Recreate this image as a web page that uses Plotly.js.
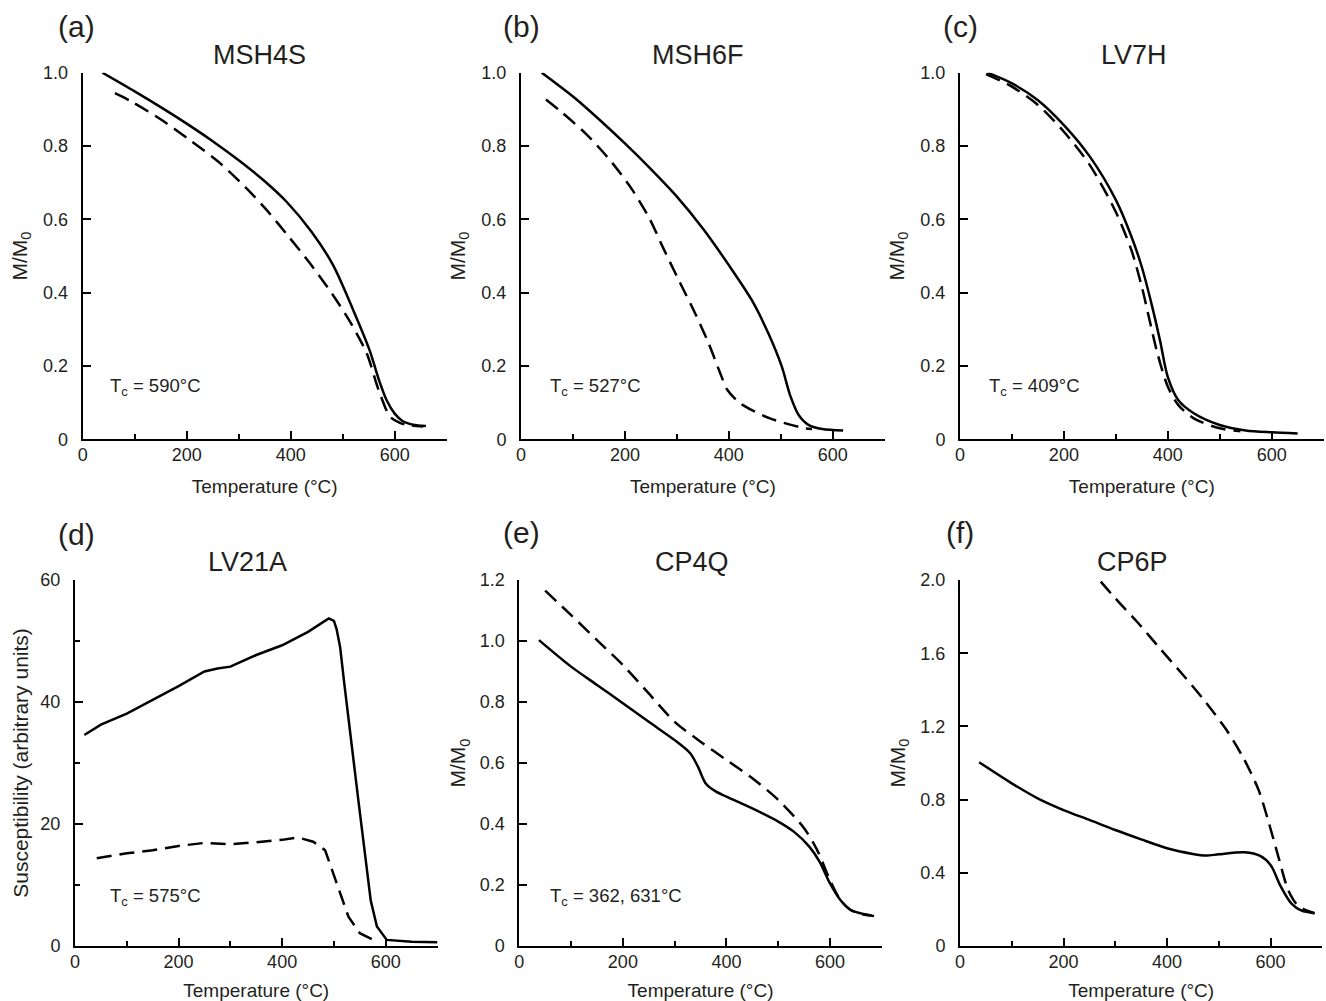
<!DOCTYPE html>
<html>
<head>
<meta charset="utf-8">
<script src="https://cdn.plot.ly/plotly-3.0.1.min.js"></script>
<style>html,body{margin:0;padding:0;background:#fff}#chart{width:1326px;height:1001px}</style>
</head>
<body>
<div id="chart"></div>
<script>
// ---------- data ----------
const panelLabels = ['(a)', '(b)', '(c)', '(d)', '(e)', '(f)'];
const sampleNames = ['MSH4S', 'MSH6F', 'LV7H', 'LV21A', 'CP4Q', 'CP6P'];
const curieTexts = ['T<sub>c</sub> = 590°C', 'T<sub>c</sub> = 527°C', 'T<sub>c</sub> = 409°C',
                    'T<sub>c</sub> = 575°C', 'T<sub>c</sub> = 362, 631°C', ''];

const xTickVals = [0, 200, 400, 600];
const xTickText = ['0', '200', '400', '600'];
const yTickValsM = [0, 0.2, 0.4, 0.6, 0.8, 1.0];
const yTickTextM = ['0', '0.2', '0.4', '0.6', '0.8', '1.0'];
const yTickValsD = [0, 20, 40, 60];
const yTickTextD = ['0', '20', '40', '60'];
const yTickValsE = [0, 0.2, 0.4, 0.6, 0.8, 1.0, 1.2];
const yTickTextE = ['0', '0.2', '0.4', '0.6', '0.8', '1.0', '1.2'];
const yTickValsF = [0, 0.4, 0.8, 1.2, 1.6, 2.0];
const yTickTextF = ['0', '0.4', '0.8', '1.2', '1.6', '2.0'];

// (a) MSH4S
const aSolidT = [38, 100, 150, 200, 250, 300, 350, 392, 440, 482, 524, 552, 569, 585, 600, 615, 635, 660];
const aSolidM = [1.0, 0.949, 0.906, 0.861, 0.813, 0.761, 0.704, 0.648, 0.566, 0.474, 0.34, 0.242, 0.165, 0.105, 0.07, 0.05, 0.04, 0.036];
const aDashT = [62, 94, 152, 206, 261, 312, 354, 396, 437, 479, 514, 546, 569, 591, 610, 630, 655];
const aDashM = [0.944, 0.921, 0.871, 0.816, 0.757, 0.689, 0.625, 0.553, 0.48, 0.398, 0.321, 0.235, 0.135, 0.062, 0.045, 0.038, 0.035];
// (b) MSH6F
const bSolidT = [40, 100, 150, 200, 250, 300, 350, 400, 444, 476, 502, 518, 535, 555, 580, 620];
const bSolidM = [1.0, 0.935, 0.873, 0.807, 0.737, 0.662, 0.575, 0.475, 0.38, 0.289, 0.198, 0.12, 0.065, 0.038, 0.028, 0.024];
const bDashT = [48, 75, 126, 175, 213, 247, 275, 305, 335, 361, 386, 397, 422, 479, 547, 560];
const bDashM = [0.927, 0.896, 0.832, 0.755, 0.683, 0.603, 0.518, 0.43, 0.344, 0.262, 0.171, 0.135, 0.098, 0.057, 0.03, 0.028];
// (c) LV7H
const cSolidT = [53, 100, 150, 200, 250, 300, 330, 350, 370, 385, 400, 420, 450, 500, 550, 600, 650];
const cSolidM = [1.0, 0.971, 0.925, 0.857, 0.771, 0.653, 0.553, 0.47, 0.362, 0.27, 0.17, 0.107, 0.071, 0.039, 0.024, 0.019, 0.016];
const cDashT = [50, 100, 150, 200, 250, 300, 330, 350, 365, 380, 400, 420, 450, 500, 540];
const cDashM = [0.996, 0.962, 0.912, 0.839, 0.748, 0.62, 0.516, 0.416, 0.325, 0.235, 0.144, 0.094, 0.057, 0.03, 0.022];
// (d) LV21A susceptibility
const dSolidT = [18, 50, 100, 150, 200, 250, 275, 300, 350, 400, 450, 490, 500, 505, 512, 520, 531, 547, 563, 571, 583, 602, 650, 700];
const dSolidK = [34.6, 36.3, 38.1, 40.3, 42.6, 45.0, 45.5, 45.8, 47.7, 49.3, 51.5, 53.7, 53.3, 52.0, 49.0, 43.0, 34.9, 24.0, 13.0, 7.5, 3.2, 1.0, 0.7, 0.6];
const dDashT = [42, 100, 150, 200, 250, 300, 350, 400, 430, 460, 483, 505, 528, 550, 583];
const dDashK = [14.4, 15.2, 15.7, 16.4, 16.9, 16.7, 17.0, 17.4, 17.8, 17.1, 15.7, 10.3, 4.8, 2.1, 0.7];
// (e) CP4Q
const eSolidT = [38, 100, 150, 200, 250, 300, 330, 345, 360, 380, 400, 450, 500, 530, 560, 580, 600, 620, 640, 660, 685];
const eSolidM = [1.003, 0.916, 0.856, 0.796, 0.735, 0.675, 0.632, 0.588, 0.533, 0.506, 0.49, 0.451, 0.408, 0.375, 0.326, 0.276, 0.205, 0.151, 0.118, 0.107, 0.098];
const eDashT = [50, 100, 150, 200, 250, 300, 350, 400, 450, 500, 550, 575, 600, 620, 640, 660, 680];
const eDashM = [1.165, 1.085, 1.003, 0.921, 0.828, 0.735, 0.67, 0.61, 0.55, 0.479, 0.386, 0.315, 0.216, 0.151, 0.118, 0.105, 0.1];
// (f) CP6P
const fSolidT = [37, 100, 150, 200, 250, 300, 350, 400, 450, 475, 500, 550, 580, 600, 620, 640, 660, 685];
const fSolidM = [1.004, 0.889, 0.807, 0.743, 0.689, 0.634, 0.583, 0.534, 0.503, 0.494, 0.501, 0.512, 0.492, 0.443, 0.324, 0.233, 0.193, 0.179];
const fDashT = [272, 300, 342, 386, 431, 474, 515, 548, 577, 597, 616, 634, 650, 665, 685];
const fDashM = [1.991, 1.90, 1.772, 1.627, 1.481, 1.335, 1.18, 1.025, 0.852, 0.67, 0.479, 0.306, 0.23, 0.2, 0.179];

// ---------- styling / layout ----------
const FONT = 'Liberation Sans, Arial, Helvetica, sans-serif';
const INK = '#231f20';
const W = 1326, H = 1001;

// pixel geometry of each plot area [left, right, top, bottom]
const boxes = [
  [82.7, 446.7, 72.7, 439.3],
  [521, 884.7, 72.7, 439.3],
  [960, 1323.6, 72.7, 439.3],
  [75, 437.5, 580, 946],
  [519.3, 881.8, 580, 946],
  [960, 1322.3, 580, 946]
];

const series = [
  [aSolidT, aSolidM, aDashT, aDashM],
  [bSolidT, bSolidM, bDashT, bDashM],
  [cSolidT, cSolidM, cDashT, cDashM],
  [dSolidT, dSolidK, dDashT, dDashK],
  [eSolidT, eSolidM, eDashT, eDashM],
  [fSolidT, fSolidM, fDashT, fDashM]
];

const yAxes = [
  {range: [0, 1.0], vals: yTickValsM, text: yTickTextM, title: 'M/M<sub>0</sub>', minor: null, so: 10},
  {range: [0, 1.0], vals: yTickValsM, text: yTickTextM, title: 'M/M<sub>0</sub>', minor: null, so: 10},
  {range: [0, 1.0], vals: yTickValsM, text: yTickTextM, title: 'M/M<sub>0</sub>', minor: null, so: 10},
  {range: [0, 60], vals: yTickValsD, text: yTickTextD, title: 'Susceptibility (arbitrary units)', minor: 10, so: 6},
  {range: [0, 1.2], vals: yTickValsE, text: yTickTextE, title: 'M/M<sub>0</sub>', minor: null, so: 8},
  {range: [0, 2.0], vals: yTickValsF, text: yTickTextF, title: 'M/M<sub>0</sub>', minor: null, so: 9}
];

const curiePos = [[48, 0.143], [52, 0.143], [52, 0.143], [63, 8.0], [55, 0.16], null];
const labelPos = [[76, 27], [521, 27], [960, 27], [76, 534], [521, 532], [960, 532]];
const titlePos = [[259, 55], [698, 55], [1134, 55], [247, 562], [692, 562], [1132, 562]];

const traces = [];
const layout = {
  width: W, height: H,
  margin: {l: 0, r: 0, t: 0, b: 0},
  paper_bgcolor: '#fff', plot_bgcolor: '#fff',
  showlegend: false,
  font: {family: FONT, color: INK, size: 18},
  annotations: []
};

series.forEach((s, i) => {
  const n = i + 1;
  const xa = n === 1 ? 'x' : 'x' + n;
  const ya = n === 1 ? 'y' : 'y' + n;
  const shape = i === 3 ? 'linear' : 'spline';
  traces.push({x: s[0], y: s[1], xaxis: xa, yaxis: ya, mode: 'lines', type: 'scatter',
    line: {color: '#000', width: 2.5, shape: shape, smoothing: 0.8}, hoverinfo: 'skip'});
  traces.push({x: s[2], y: s[3], xaxis: xa, yaxis: ya, mode: 'lines', type: 'scatter',
    line: {color: '#000', width: 2.5, dash: '15px,8px', shape: shape, smoothing: 0.8}, hoverinfo: 'skip'});

  const b = boxes[i];
  const ax = 'xaxis' + (n === 1 ? '' : n);
  const ay = 'yaxis' + (n === 1 ? '' : n);
  layout[ax] = {
    domain: [b[0] / W, b[1] / W], anchor: ya, range: [0, 700],
    showgrid: false, zeroline: false, showline: true, linecolor: '#000', linewidth: 2,
    ticks: 'inside', ticklen: 8, tickwidth: 2, tickcolor: '#000',
    tickmode: 'array', tickvals: xTickVals, ticktext: xTickText,
    tickfont: {family: FONT, size: 18, color: INK}, ticklabelstandoff: -2,
    minor: {tickmode: 'linear', tick0: 0, dtick: 100, ticks: 'inside', ticklen: 5, tickwidth: 2, tickcolor: '#000', showgrid: false},
    title: {text: 'Temperature (°C)', font: {family: FONT, size: 19, color: INK}, standoff: 16},
    fixedrange: true
  };
  const yc = yAxes[i];
  layout[ay] = {
    domain: [1 - b[3] / H, 1 - b[2] / H], anchor: xa, range: yc.range,
    showgrid: false, zeroline: false, showline: true, linecolor: '#000', linewidth: 2,
    ticks: 'inside', ticklen: 8, tickwidth: 2, tickcolor: '#000',
    tickmode: 'array', tickvals: yc.vals, ticktext: yc.text,
    tickfont: {family: FONT, size: 18, color: INK}, ticklabelstandoff: 9,
    title: {text: yc.title, font: {family: FONT, size: 21, color: INK}, standoff: yc.so},
    fixedrange: true
  };
  if (yc.minor) {
    layout[ay].minor = {tickmode: 'linear', tick0: 0, dtick: yc.minor, ticks: 'inside', ticklen: 5, tickwidth: 2, tickcolor: '#000', showgrid: false};
  }

  // panel letter
  layout.annotations.push({xref: 'paper', yref: 'paper', x: labelPos[i][0] / W, y: 1 - labelPos[i][1] / H,
    xanchor: 'center', yanchor: 'middle', text: panelLabels[i], showarrow: false,
    font: {family: FONT, size: 30, color: INK}});
  // sample title
  layout.annotations.push({xref: 'paper', yref: 'paper', x: titlePos[i][0] / W, y: 1 - titlePos[i][1] / H,
    xanchor: 'center', yanchor: 'middle', text: sampleNames[i], showarrow: false,
    font: {family: FONT, size: 27, color: INK}});
  // Curie temperature note
  if (curiePos[i]) {
    layout.annotations.push({xref: xa, yref: ya, x: curiePos[i][0], y: curiePos[i][1],
      xanchor: 'left', yanchor: 'middle', text: curieTexts[i], showarrow: false,
      font: {family: FONT, size: 18.5, color: INK}});
  }
});

Plotly.newPlot('chart', traces, layout, {staticPlot: true, displayModeBar: false});
</script>
</body>
</html>
